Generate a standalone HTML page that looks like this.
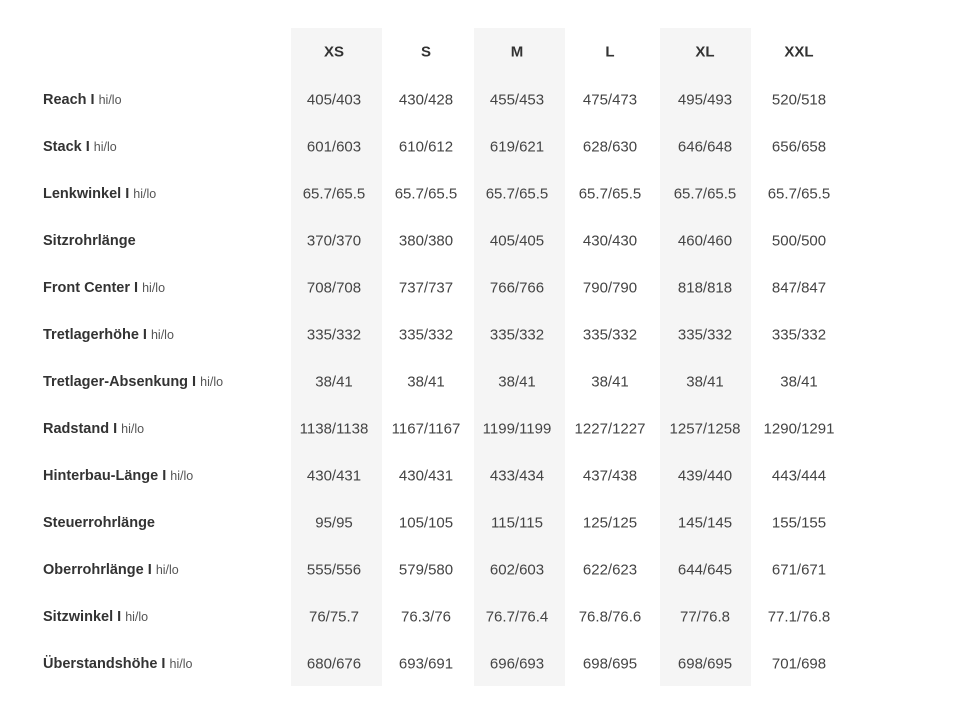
<!DOCTYPE html><html><head><style>
body{margin:0;background:#fff;width:963px;height:704px;position:relative;font-family:"Liberation Sans",sans-serif;overflow:hidden}
.sh{position:absolute;top:28px;height:658px;width:91px;background:#f5f5f5}
.t{position:absolute;transform:translate(-50%,-50%);white-space:nowrap;font-size:15px;color:#444}
.h{font-weight:bold;color:#333;font-size:15px}
.l{position:absolute;left:43px;transform:translateY(-50%);font-size:14.5px;font-weight:bold;color:#333;white-space:nowrap}
.l span{font-weight:normal;font-size:12.5px;color:#555}
</style></head><body>
<div class="sh" style="left:291px"></div><div class="sh" style="left:474px"></div><div class="sh" style="left:660px"></div>
<div id="c"></div>
<script>
var xs=[334,426,517,610,705,799];
var hd=["XS","S","M","L","XL","XXL"];
var rows=[["Reach",1,"405/403","430/428","455/453","475/473","495/493","520/518"],
["Stack",1,"601/603","610/612","619/621","628/630","646/648","656/658"],
["Lenkwinkel",1,"65.7/65.5","65.7/65.5","65.7/65.5","65.7/65.5","65.7/65.5","65.7/65.5"],
["Sitzrohrlänge",0,"370/370","380/380","405/405","430/430","460/460","500/500"],
["Front Center",1,"708/708","737/737","766/766","790/790","818/818","847/847"],
["Tretlagerhöhe",1,"335/332","335/332","335/332","335/332","335/332","335/332"],
["Tretlager-Absenkung",1,"38/41","38/41","38/41","38/41","38/41","38/41"],
["Radstand",1,"1138/1138","1167/1167","1199/1199","1227/1227","1257/1258","1290/1291"],
["Hinterbau-Länge",1,"430/431","430/431","433/434","437/438","439/440","443/444"],
["Steuerrohrlänge",0,"95/95","105/105","115/115","125/125","145/145","155/155"],
["Oberrohrlänge",1,"555/556","579/580","602/603","622/623","644/645","671/671"],
["Sitzwinkel",1,"76/75.7","76.3/76","76.7/76.4","76.8/76.6","77/76.8","77.1/76.8"],
["Überstandshöhe",1,"680/676","693/691","696/693","698/695","698/695","701/698"]];
var h="";
hd.forEach(function(s,i){h+='<div class="t h" style="left:'+xs[i]+'px;top:52px">'+s+'</div>'});
rows.forEach(function(r,j){var y=100+j*47;
h+='<div class="l" style="top:'+y+'px">'+r[0]+(r[1]?' I <span>hi/lo</span>':'')+'</div>';
for(var i=0;i<6;i++)h+='<div class="t" style="left:'+xs[i]+'px;top:'+y+'px">'+r[i+2]+'</div>';});
document.getElementById("c").innerHTML=h;
</script>
</body></html>
